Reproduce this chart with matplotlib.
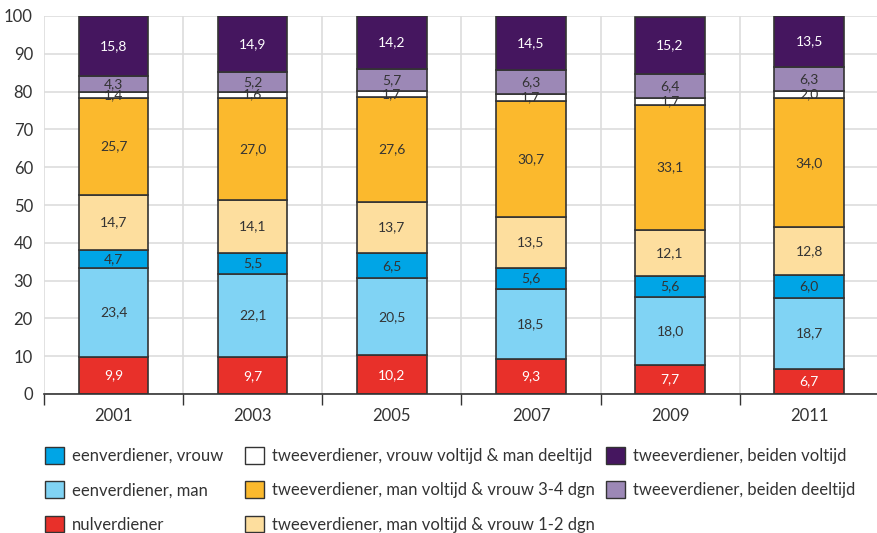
import matplotlib
matplotlib.use("Agg")
import matplotlib.pyplot as plt
from matplotlib.patches import Patch
import numpy as np

plt.rcParams['font.family'] = ['Lato', 'DejaVu Sans']

years = ['2001', '2003', '2005', '2007', '2009', '2011']
series_names = [
    'nulverdiener',
    'eenverdiener, man',
    'eenverdiener, vrouw',
    'tweeverdiener, man voltijd & vrouw 1-2 dgn',
    'tweeverdiener, man voltijd & vrouw 3-4 dgn',
    'tweeverdiener, vrouw voltijd & man deeltijd',
    'tweeverdiener, beiden deeltijd',
    'tweeverdiener, beiden voltijd',
]
nulverdiener = [9.9, 9.7, 10.2, 9.3, 7.7, 6.7]
eenverdiener_man = [23.4, 22.1, 20.5, 18.5, 18.0, 18.7]
eenverdiener_vrouw = [4.7, 5.5, 6.5, 5.6, 5.6, 6.0]
twee_1_2 = [14.7, 14.1, 13.7, 13.5, 12.1, 12.8]
twee_3_4 = [25.7, 27.0, 27.6, 30.7, 33.1, 34.0]
twee_vrouw_voltijd = [1.4, 1.6, 1.7, 1.7, 1.7, 2.0]
beiden_deeltijd = [4.3, 5.2, 5.7, 6.3, 6.4, 6.3]
beiden_voltijd = [15.8, 14.9, 14.2, 14.5, 15.2, 13.5]

series = [nulverdiener, eenverdiener_man, eenverdiener_vrouw, twee_1_2,
          twee_3_4, twee_vrouw_voltijd, beiden_deeltijd, beiden_voltijd]
colors = ['#E8302A', '#80D3F4', '#00A5E6', '#FDDE9E', '#FBB92D', '#FFFFFF', '#9C88B6', '#45165F']
text_colors = ['white', '#333333', '#333333', '#333333', '#333333', '#333333', '#333333', 'white']

fig = plt.figure(figsize=(8.77, 5.33), dpi=100)
ax = fig.add_axes([44/877, 1-394/533, 1-44/877 + 0.002, (394-16)/533])

x = np.arange(len(years))
bottom = np.zeros(len(years))
for vals, c, tc in zip(series, colors, text_colors):
    vals = np.array(vals)
    ax.bar(x, vals, width=0.5, bottom=bottom, color=c, edgecolor='#333333', linewidth=1.2, zorder=3)
    for xi, b, v in zip(x, bottom, vals):
        ax.text(xi, b + v/2, f"{v:.1f}".replace('.', ','), ha='center', va='center',
                fontsize=10, color=tc, zorder=4)
    bottom += vals

ax.set_xlim(-0.5, 5.5)
ax.set_ylim(0, 100)
ax.set_yticks(np.arange(0, 101, 10))
ax.tick_params(axis='y', length=0, labelsize=12, colors='#333333', pad=8)
ax.set_xticks(np.arange(-0.5, 6, 1))
ax.set_xticklabels([])
ax.set_xticks(x, minor=True)
ax.set_xticklabels(years, minor=True)
ax.tick_params(axis='x', which='major', length=8, width=1, color='#333333', direction='out')
ax.tick_params(axis='x', which='minor', length=0, labelsize=12, colors='#333333', pad=10)
ax.grid(True, which='major', color='#DDDDDD', linewidth=1.2, zorder=0)
ax.set_axisbelow(True)
for s in ['left', 'right', 'top']:
    ax.spines[s].set_visible(False)
ax.spines['bottom'].set_color('#333333')
ax.spines['bottom'].set_linewidth(1.2)
ax.spines['bottom'].set_zorder(5)

columns = [[2, 1, 0], [5, 4, 3], [7, 6]]
col_x = [45, 245, 606]
for idxs, cx in zip(columns, col_x):
    handles = [Patch(facecolor=colors[i], edgecolor='#333333', linewidth=1.0) for i in idxs]
    labels = [series_names[i] for i in idxs]
    fig.legend(handles, labels, ncol=1, loc='upper left', bbox_to_anchor=(cx/877, 1-447/533),
               frameon=False, fontsize=12, handlelength=1.15, handleheight=1.15,
               handletextpad=0.45, labelspacing=1.05, borderaxespad=0,
               borderpad=0, labelcolor='#333333')

fig.savefig('out.png', dpi=100)
